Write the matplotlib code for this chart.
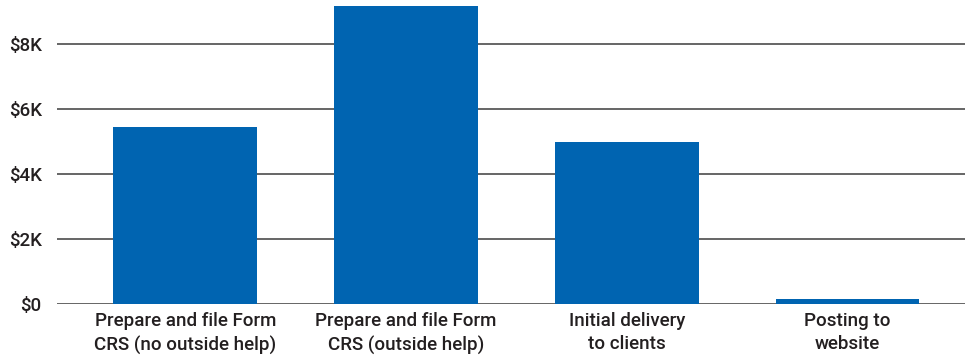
import matplotlib.pyplot as plt
from matplotlib.ticker import FuncFormatter

categories = [
    "Prepare and file Form\nCRS (no outside help)",
    "Prepare and file Form\nCRS (outside help)",
    "Initial delivery\nto clients",
    "Posting to\nwebsite",
]
costs = [5450, 9170, 4985, 145]
y_ticks = [0, 2000, 4000, 6000, 8000]

bar_color = "#0064B1"
text_color = "#231F20"

plt.rcParams["font.family"] = ["Roboto", "DejaVu Sans"]

fig = plt.figure(figsize=(9.65, 3.57), dpi=100)
ax = fig.add_axes([0.059, 0.1485, 0.941, 0.8515])

ax.bar(range(len(costs)), costs, width=0.65, color=bar_color, zorder=2)

ax.set_xlim(-0.581, 3.532)
ax.set_ylim(0, 9350)
ax.set_yticks(y_ticks)
ax.yaxis.set_major_formatter(FuncFormatter(
    lambda v, _: "$0" if v == 0 else f"${v / 1000:.0f}K"))
ax.set_xticks(range(len(categories)))
ax.set_xticklabels(categories, linespacing=1.35)

ax.grid(axis="y", color="#3C3C3C", linewidth=1.1, zorder=0)
ax.set_axisbelow(True)
for s in ax.spines.values():
    s.set_visible(False)

ax.tick_params(axis="both", length=0, labelsize=13.5, labelcolor=text_color)
ax.tick_params(axis="y", pad=11)
ax.tick_params(axis="x", pad=6)
for lbl in ax.get_xticklabels() + ax.get_yticklabels():
    lbl.set_fontweight("medium")

fig.savefig("out.png", dpi=100)
